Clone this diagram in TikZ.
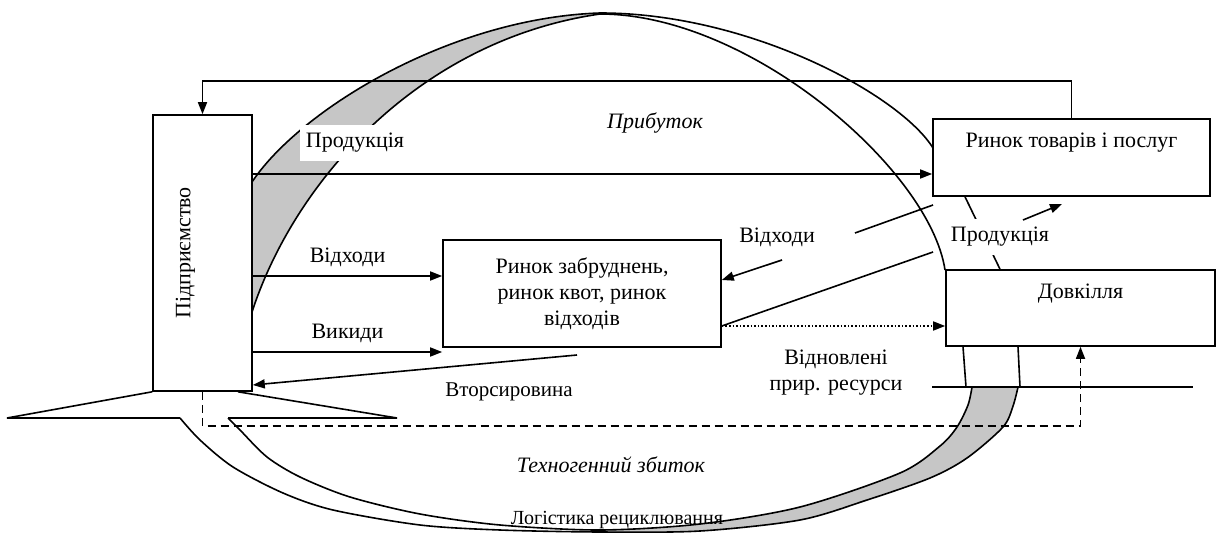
\documentclass[tikz,border=0pt]{standalone}
\usepackage{fontspec}
\setmainfont{Liberation Serif}
\usetikzlibrary{arrows.meta}
\tikzset{auto, >={Triangle[length=6pt,width=4.5pt]},
  box/.style={draw, fill=white, inner sep=2pt},
  topbox/.style={box, text height=8pt, text depth=17.5pt},
  lbl/.style={fill=white, inner xsep=3pt, inner ysep=4pt},
  ittext/.style={font=\fontsize{11}{13}\selectfont\itshape},
  smalltext/.style={font=\fontsize{10}{12}\selectfont},
  greyfill/.style={fill=gray!45}}

\begin{document}
\begin{tikzpicture}[x=0.5pt, y=-0.5pt, line width=0.8pt, font=\fontsize{11}{13}\selectfont]
  \useasboundingbox (0,0) rectangle (1218,534);

  \fill[greyfill] (252,182) .. controls (300,110) and (450,18) .. (600,13)
    -- (600,14) .. controls (420,40) and (295,180) .. (252,312) -- cycle;
  \fill[greyfill] plot[smooth] coordinates {(600,530) (700,524) (800,507) (900,473) (940,446) (957,427) (968,405) (972,387)}
    -- plot[smooth] coordinates {(1018,387) (1013,406) (1003,427) (967,458) (930,478) (867,500) (800,520) (700,531) (600,532)} -- cycle;

  \draw (252,182) .. controls (300,110) and (450,18) .. (600,13)
    .. controls (750,13) and (900,95) .. (933,148);
  \draw (252,312) .. controls (295,180) and (420,40) .. (600,14)
    .. controls (750,14) and (930,170) .. (945,270);
  \draw plot[smooth] coordinates {(180,418) (200,440) (233,467) (283,493) (333,510) (420,525) (500,530) (600,532) (700,531) (800,520) (867,500) (930,478) (967,458) (1003,427) (1013,406) (1018,387)};
  \draw plot[smooth] coordinates {(228,418) (240,430) (267,457) (300,477) (350,497) (420,514) (500,525) (600,530) (700,524) (800,507) (900,473) (940,446) (957,427) (968,405) (972,387)};

  \node[box, minimum width=49.5pt, minimum height=138pt] (P) at (202.5,253) {\rotatebox{90}{Підприємство}\rule{17pt}{0pt}};
  \node[topbox, minimum width=138.5pt, minimum height=38.5pt] (T) at (1071.5,157.5) {Ринок товарів і послуг};
  \node[box, minimum width=139pt, minimum height=53.5pt, align=center] (Z) at (582,293.5) {Ринок забруднень,\\ ринок квот, ринок\\ відходів};
  \node[topbox, minimum width=134.5pt, minimum height=38pt] (D) at (1080.5,308) {Довкілля};

  \node[lbl] (prod1) at (355,143) {Продукція};
  \node[ittext] (prib) at (655,123) {Прибуток};

  \draw[->] (T.north) -- +(0,-37) -| (P.north);
  \draw[->] (P.east |- 0,174) -- (T.west |- 0,174);
  \draw[->] (P.east |- 0,276) -- node[above=1pt] (vid1) {Відходи} (Z.west |- 0,276);
  \draw[->] (P.east |- 0,352) -- node[above=1pt] (vyk) {Викиди} (Z.west |- 0,352);

  \coordinate (vs) at (577,355);
  \draw[->] (vs) -- (P.east |- 0,385);
  \node[font=\fontsize{10.5}{12}\selectfont] (vtor) at (509,392) {Вторсировина};

  \draw[->, densely dotted] (Z.east |- 0,326) -- (D.west |- 0,326);

  \coordinate (w1) at (933,205);
  \coordinate (w2) at (855,233);
  \coordinate (w3) at (782,260);
  \draw (w1) -- (w2);
  \draw[->] (w3) -- (Z.east |- 0,280);
  \node (vid2) at (777,237) {Відходи};

  \coordinate (p1) at (933,252);
  \draw (p1) -- (Z.east |- 0,326);

  \draw (T.south -| 965,0) -- (D.north -| 1000,0);
  \node[lbl] (prod2) at (1000,237) {Продукція};
  \coordinate (p4) at (1023,220);
  \coordinate (p5) at (1062,204);
  \draw[->] (p4) -- (p5);

  \draw (D.south -| 963,0) -- (966,387);
  \draw (D.south -| 1018,0) -- (1020,387);
  \draw (932,387) -- (1193,387);
  \node[align=center] (vidn) at (836,373) {Відновлені\\ прир. ресурси};

  \draw (P.south west) -- (7,418) -- (180,418);
  \draw (P.south -| 238,0) -- (397,418) -- (228,418);
  \draw[->, dash pattern=on 4pt off 2.5pt] (P.south) -- +(0,34) -| (D.south);

  \node[ittext] (zbyt) at (611,465) {Техногенний збиток};
  \node[smalltext] (log) at (617,520) {Логістика рециклювання};
\end{tikzpicture}
\end{document}
